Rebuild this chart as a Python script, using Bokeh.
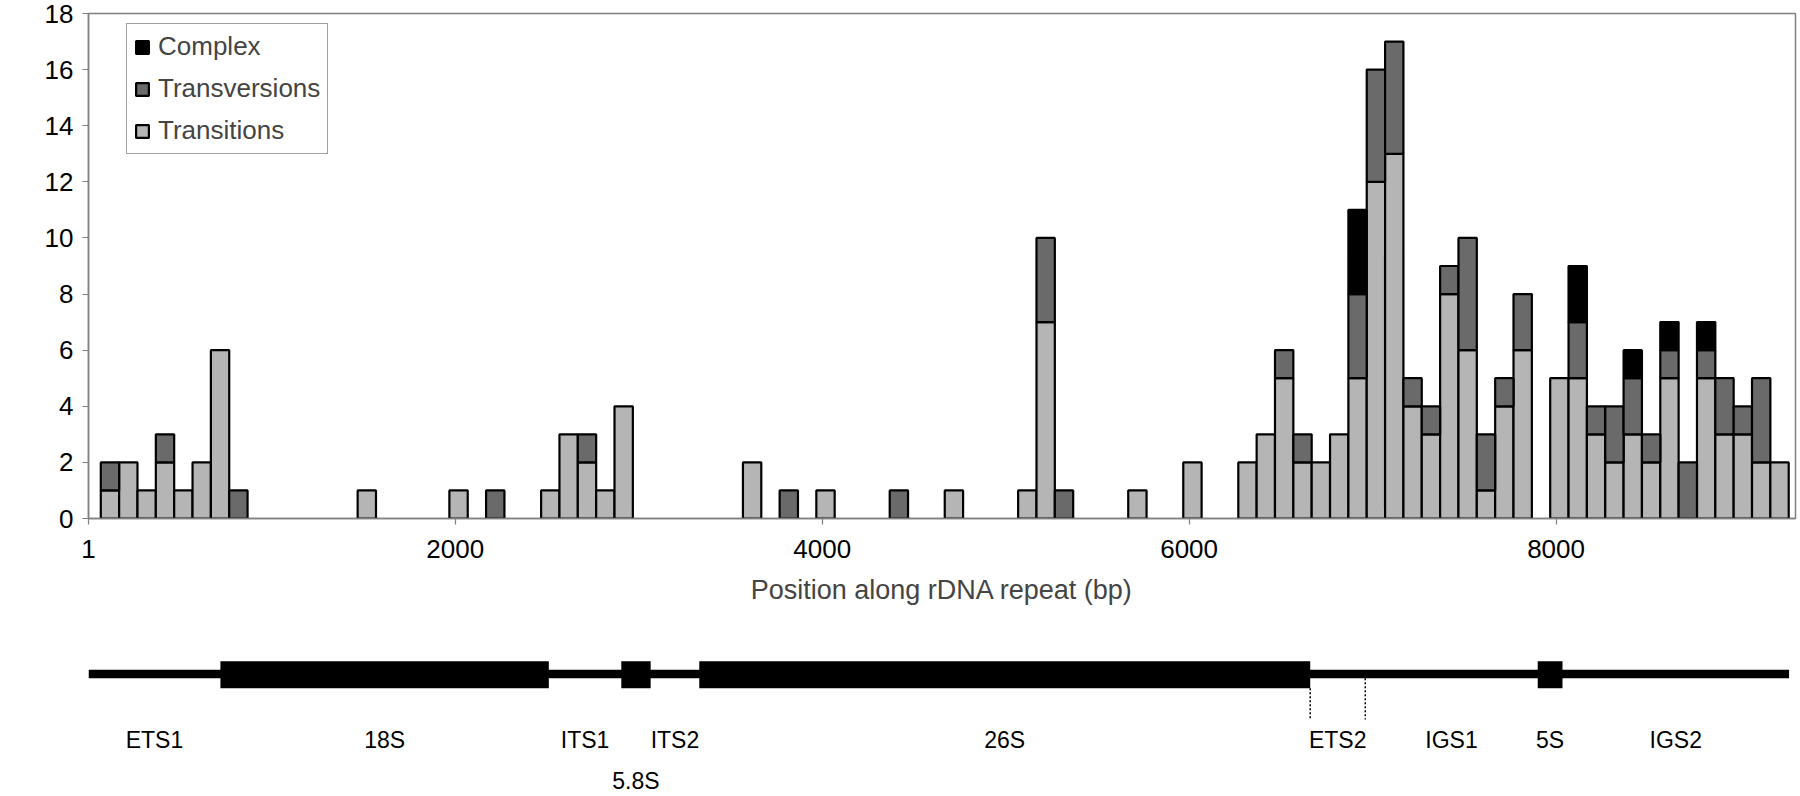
import math
import numpy as np
from bokeh.plotting import figure
from bokeh.models import Range1d, FixedTicker, Legend, LegendItem, ColumnDataSource, Label
from bokeh.layouts import column
from bokeh.embed import file_html
from bokeh.resources import INLINE

# ---------------- data ----------------
# centre of each 100-bp window (bp) that holds at least one polymorphism
bin_center_bp = [118, 218, 318, 418, 518, 618, 718, 818,
                 1518, 2018, 2218,
                 2518, 2618, 2718, 2818, 2918,
                 3618, 3818, 4018, 4418, 4718,
                 5118, 5218, 5318, 5718, 6018,
                 6318, 6418, 6518, 6618, 6718, 6818, 6918, 7018, 7118, 7218, 7318, 7418, 7518, 7618, 7718, 7818,
                 8018, 8118, 8218, 8318, 8418, 8518, 8618, 8718, 8818, 8918, 9018, 9118, 9218]
transitions = [1, 2, 1, 2, 1, 2, 6, 0,
               1, 1, 0,
               1, 3, 2, 1, 4,
               2, 0, 1, 0, 1,
               1, 7, 0, 1, 2,
               2, 3, 5, 2, 2, 3, 5, 12, 13, 4, 3, 8, 6, 1, 4, 6,
               5, 5, 3, 2, 3, 2, 5, 0, 5, 3, 3, 2, 2]
transversions = [1, 0, 0, 1, 0, 0, 0, 1,
                 0, 0, 1,
                 0, 0, 1, 0, 0,
                 0, 1, 0, 1, 0,
                 0, 3, 1, 0, 0,
                 0, 0, 1, 1, 0, 0, 3, 4, 4, 1, 1, 1, 4, 2, 1, 2,
                 0, 2, 1, 2, 2, 1, 1, 2, 1, 2, 1, 3, 0]
complex_ = [0, 0, 0, 0, 0, 0, 0, 0,
            0, 0, 0,
            0, 0, 0, 0, 0,
            0, 0, 0, 0, 0,
            0, 0, 0, 0, 0,
            0, 0, 0, 0, 0, 0, 3, 0, 0, 0, 0, 0, 0, 0, 0, 0,
            0, 2, 0, 0, 1, 0, 1, 0, 1, 0, 0, 0, 0]
bin_width_bp = 100
series_names = ["Transitions", "Transversions", "Complex"]
series_colors = ["#b5b5b5", "#6a6a6a", "#000000"]

x_ticks = [1, 2000, 4000, 6000, 8000]
y_ticks = [0, 2, 4, 6, 8, 10, 12, 14, 16, 18]

# rDNA repeat map (bp)
region_names = ["ETS1", "18S", "ITS1", "5.8S", "ITS2", "26S", "ETS2", "IGS1", "5S", "IGS2"]
region_start = [1, 720, 2510, 2905, 3065, 3330, 6660, 6960, 7900, 8035]
region_end = [720, 2510, 2905, 3065, 3330, 6660, 6960, 7900, 8035, 9270]
region_is_gene = [False, True, False, True, False, True, False, False, True, False]

FONT = "Liberation Sans"

# ---------------- chart ----------------
x_range = Range1d(1, 9305)
p = figure(width=1800, height=630, x_range=x_range, y_range=Range1d(0, 18),
           output_backend="svg", toolbar_location=None,
           min_border_left=88, min_border_right=5, min_border_top=13, min_border_bottom=112,
           background_fill_color="white", border_fill_color="white")
p.xgrid.visible = False
p.ygrid.visible = False
p.outline_line_color = "#808080"
p.outline_line_width = 1.5

tr = np.array(transitions, dtype=float)
tv = np.array(transversions, dtype=float)
cx = np.array(complex_, dtype=float)
xc = np.array(bin_center_bp, dtype=float)
bottoms = [np.zeros_like(tr), tr, tr + tv]
tops = [tr, tr + tv, tr + tv + cx]
renderers = {}
for name, col, b, t in zip(series_names, series_colors, bottoms, tops):
    msk = t > b
    src = ColumnDataSource(dict(x=xc[msk], bottom=b[msk], top=t[msk]))
    renderers[name] = p.vbar(x="x", width=bin_width_bp, bottom="bottom", top="top", source=src,
                             fill_color=col, line_color="black", line_width=2.2)

for ax in (p.xaxis[0], p.yaxis[0]):
    ax.axis_line_color = "#808080"
    ax.axis_line_width = 1.5
    ax.major_tick_line_color = "#808080"
    ax.major_tick_line_width = 1.2
    ax.major_tick_in = 0
    ax.major_tick_out = 6
    ax.minor_tick_line_color = None
    ax.major_label_text_font = FONT
    ax.major_label_text_color = "black"
    ax.major_label_text_font_size = "26px"

p.xaxis[0].ticker = FixedTicker(ticks=x_ticks)
p.xaxis[0].major_label_overrides = {t: str(t) for t in x_ticks}
p.xaxis[0].major_label_standoff = 15
p.xaxis[0].axis_label = "Position along rDNA repeat (bp)"
p.xaxis[0].axis_label_text_font = FONT
p.xaxis[0].axis_label_text_font_style = "normal"
p.xaxis[0].axis_label_text_font_size = "27px"
p.xaxis[0].axis_label_standoff = 14

p.yaxis[0].ticker = FixedTicker(ticks=y_ticks)
p.yaxis[0].major_label_standoff = 9

ylab = Label(x=-395, y=9.4, text="Number of polymorphisms", angle=math.pi / 2,
             text_align="center", text_baseline="middle", text_font=FONT,
             text_font_size="27px", text_color="black")
p.add_layout(ylab)

legend = Legend(items=[LegendItem(label=n, renderers=[renderers[n]]) for n in reversed(series_names)],
                location=(38, 364), margin=0, padding=7, spacing=11,
                glyph_width=16, glyph_height=16, label_height=30, label_standoff=8,
                label_text_font=FONT, label_text_font_size="26px",
                border_line_color="#444444", border_line_width=1.2,
                background_fill_color="white", background_fill_alpha=1)
p.add_layout(legend)

# ---------------- rDNA map ----------------
m = figure(width=1800, height=166, x_range=x_range, y_range=Range1d(166, 0),
           output_backend="svg", toolbar_location=None,
           min_border_left=88, min_border_right=5, min_border_top=0, min_border_bottom=0,
           background_fill_color="white", border_fill_color="white")
m.axis.visible = False
m.grid.visible = False
m.outline_line_color = None

# spacer backbone
m.quad(left=[min(region_start)], right=[max(region_end)], top=[39.3], bottom=[47.7],
       fill_color="black", line_color=None)
gs = [s for s, g in zip(region_start, region_is_gene) if g]
ge = [e for e, g in zip(region_end, region_is_gene) if g]
m.quad(left=gs, right=ge, top=[30.7] * len(gs), bottom=[57.7] * len(gs),
       fill_color="black", line_color=None)

# dotted boundaries of ETS2
i_ets2 = region_names.index("ETS2")
m.segment(x0=[region_start[i_ets2], region_end[i_ets2]], y0=[57.7, 47.7],
          x1=[region_start[i_ets2], region_end[i_ets2]], y1=[89, 89],
          line_color="black", line_width=1.5, line_dash="2 2")

mid = [(s + e) / 2 for s, e in zip(region_start, region_end)]
lab_y = [150 if n == "5.8S" else 109 for n in region_names]
m.text(x=mid, y=lab_y, text=region_names, text_align="center", text_baseline="middle",
       text_font={"value": FONT}, text_font_size={"value": "23px"}, text_color="black")

layout = column(p, m, spacing=0)
open("out.html", "w").write(file_html(layout, INLINE))
